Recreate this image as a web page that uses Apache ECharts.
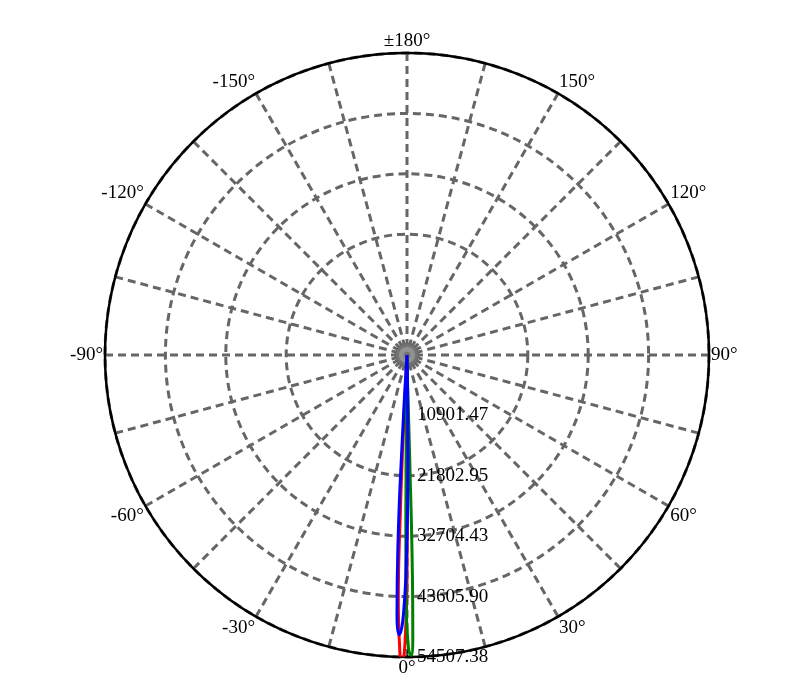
<!DOCTYPE html><html><head><meta charset="utf-8"><script src="https://cdn.jsdelivr.net/npm/echarts@6/dist/echarts.min.js"></script></head><body style="margin:0"><div id="c" style="width:800px;height:700px"></div><script>
var ringTicks=[10901.47,21802.95,32704.43,43605.90,54507.38];
var redData=[[0,0],[357.2,10000],[357.6,30000],[358,45000],[358.5,52000],[359,56500],[359.6,52000],[0,40000],[0.2,20000],[0.3,5000],[0,0]];
var greenData=[[0,0],[359.5,10000],[359.6,30000],[359.8,45000],[0.3,53000],[0.8,54200],[1.2,50000],[1.4,40000],[1.5,20000],[1.2,5000],[0,0]];
var blueData=[[0,0],[356.8,15000],[357.3,35000],[357.8,47000],[358.4,50500],[359.2,47000],[359.9,35000],[0.5,20000],[1,5000],[1.5,1000],[0,0]];
var ch=echarts.init(document.getElementById('c'));
var font='Liberation Serif';
ch.setOption({animation:false,
polar:{center:[407,355],radius:302},
angleAxis:{type:'value',min:0,max:360,interval:15,startAngle:270,clockwise:false,
 axisLine:{lineStyle:{color:'#000',width:2.5}},axisTick:{show:false},
 axisLabel:{fontFamily:font,fontSize:19,color:'#000',margin:2,formatter:function(v){if(v%30)return '';if(v==180)return '±180°';if(v==360)return '';return (v>180?v-360:v)+'°';}},
 splitLine:{lineStyle:{color:'#666',width:3,type:[8,5]}}},
radiusAxis:{min:0,max:54507.38,interval:10901.476,
 axisLine:{lineStyle:{color:'#000',width:1,type:'dashed'}},axisTick:{show:false},
 axisLabel:{fontFamily:font,fontSize:19,color:'#000',showMinLabel:false,margin:10,align:'left',formatter:function(v,i){return ringTicks[i-1]!==undefined?ringTicks[i-1].toFixed(2):'';}},
 splitLine:{lineStyle:{color:['#666','rgba(0,0,0,0)','#666','#666','#666','#666'],width:3,type:[8,5]}}},
series:[
{type:'scatter',coordinateSystem:'polar',data:[[0,0]],symbolSize:22,itemStyle:{color:'#777'},silent:true},
{type:'line',coordinateSystem:'polar',data:redData.map(d=>[d[1],d[0]]),showSymbol:false,lineStyle:{color:'red',width:3},smooth:true},
{type:'line',coordinateSystem:'polar',data:greenData.map(d=>[d[1],d[0]]),showSymbol:false,lineStyle:{color:'green',width:3},smooth:true},
{type:'line',coordinateSystem:'polar',data:blueData.map(d=>[d[1],d[0]]),showSymbol:false,lineStyle:{color:'blue',width:3},smooth:true}
]});
</script></body></html>
